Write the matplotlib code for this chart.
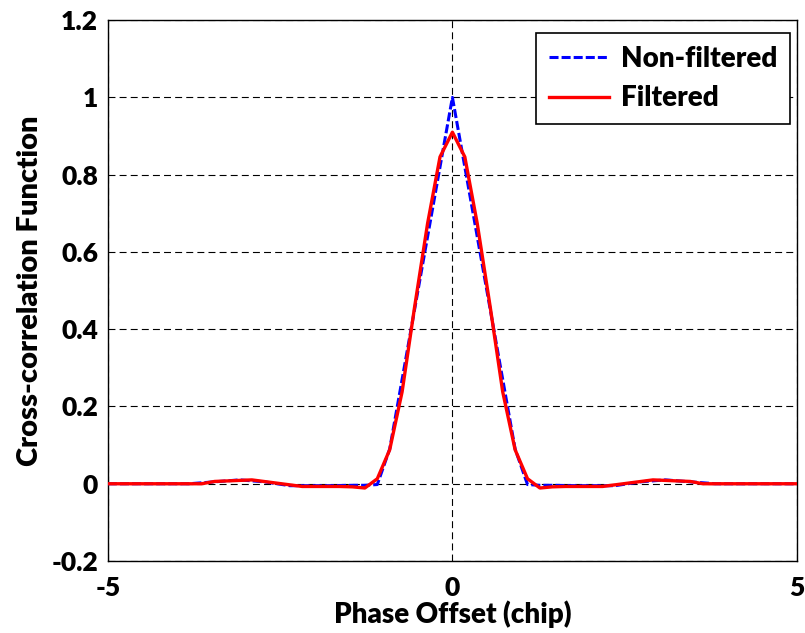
import numpy as np
import matplotlib
matplotlib.use("Agg")
import matplotlib.pyplot as plt

plt.rcParams['lines.scale_dashes'] = False

# ---------- DATA ----------
# phase offsets (chip) and correlation values, non-filtered signal
x_nf = [-5.0, -3.82, -3.45, -3.09, -2.73, -2.36, -1.82, -1.45, -1.27, -1.09,
        -0.91, -0.73, -0.55, -0.36, -0.18, 0.0, 0.18, 0.36, 0.55, 0.73, 0.91,
        1.09, 1.27, 1.45, 1.82, 2.36, 2.73, 3.09, 3.45, 3.82, 5.0]
y_nf = [0.0, 0.0, 0.005, 0.01, 0.005, -0.005, -0.005, -0.004, -0.004, -0.002,
        0.09, 0.27, 0.45, 0.64, 0.82, 1.0, 0.82, 0.64, 0.45, 0.27, 0.09,
        -0.002, -0.004, -0.004, -0.005, -0.005, 0.005, 0.01, 0.005, 0.0, 0.0]

# filtered signal
x_f = [-5.0, -3.64, -3.45, -2.91, -2.18, -1.64, -1.45, -1.27, -1.09, -0.91,
       -0.73, -0.55, -0.36, -0.18, 0.0, 0.18, 0.36, 0.55, 0.73, 0.91, 1.09,
       1.27, 1.45, 1.64, 2.18, 2.91, 3.45, 3.64, 5.0]
y_f = [0.0, 0.0, 0.006, 0.01, -0.007, -0.007, -0.008, -0.011, 0.013, 0.088,
       0.238, 0.456, 0.674, 0.846, 0.91, 0.846, 0.674, 0.456, 0.238, 0.088, 0.013,
       -0.011, -0.008, -0.007, -0.007, 0.01, 0.006, 0.0, 0.0]

y_ticks = [-0.2, 0, 0.2, 0.4, 0.6, 0.8, 1, 1.2]
y_ticklabels = ['-0.2', '0', '0.2', '0.4', '0.6', '0.8', '1', '1.2']
x_ticks = [-5, 0, 5]

FONT = 'Lato'
WEIGHT = 'heavy'

# ---------- PLOT ----------
fig = plt.figure(figsize=(8.05, 6.33), dpi=100)
ax = fig.add_axes([0.134, 0.1137, 0.856, 0.8545])

ax.plot(x_nf, y_nf, color='#0000ff', lw=2.2, linestyle=(0, (6.5, 2.2)),
        label='Non-filtered', zorder=3)
ax.plot(x_f, y_f, color='#ff0000', lw=2.4, label='Filtered', zorder=4)

ax.set_xlim(-5, 5)
ax.set_ylim(-0.2, 1.2)
ax.set_xticks(x_ticks)
ax.set_yticks(y_ticks)
ax.set_yticklabels(y_ticklabels, fontfamily=FONT, fontweight=WEIGHT, fontsize=19)
ax.set_xticklabels([str(t) for t in x_ticks], fontfamily=FONT, fontweight=WEIGHT, fontsize=19)
ax.tick_params(axis='y', direction='in', length=0, pad=7)
ax.tick_params(axis='x', direction='in', length=0, pad=11)

ax.grid(True, color='k', lw=0.8, linestyle=(0, (5, 3)))
for sp in ax.spines.values():
    sp.set_linewidth(1.0)

ax.set_xlabel('Phase Offset (chip)', fontfamily=FONT, fontweight=WEIGHT, fontsize=20, labelpad=0)
ax.set_ylabel('Cross-correlation Function', fontfamily=FONT, fontweight=WEIGHT, fontsize=21, labelpad=6)

leg = ax.legend(loc='upper right', bbox_to_anchor=(0.99, 0.976), fancybox=False,
                edgecolor='k', framealpha=1, borderaxespad=0,
                prop={'family': FONT, 'weight': WEIGHT, 'size': 20},
                handlelength=2.15, handletextpad=0.45, borderpad=0.45, labelspacing=0.5)
leg.get_frame().set_linewidth(1.2)

fig.savefig('out.png', dpi=100)
